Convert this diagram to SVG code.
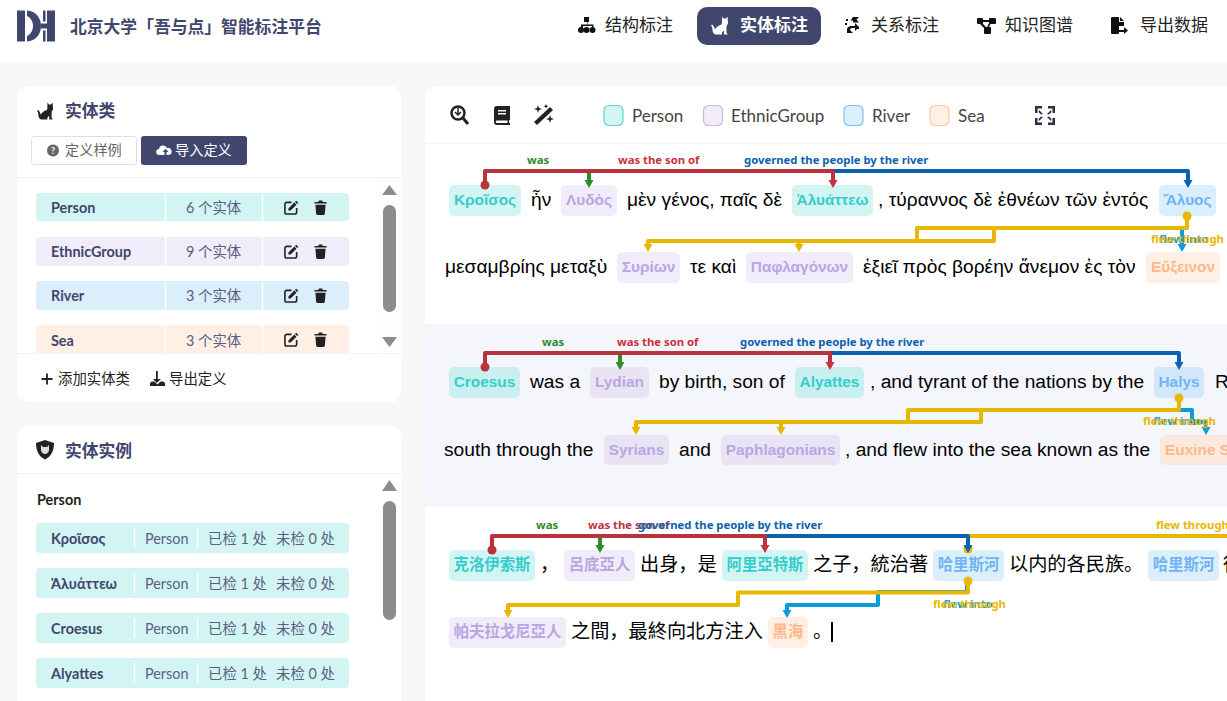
<svg xmlns="http://www.w3.org/2000/svg" width="1227" height="701" viewBox="0 0 1227 701">
<style>
text{font-family:Lato,"Noto Sans","Noto Sans CJK SC",sans-serif}
.nav{font-size:17px;fill:#222}
.sec{font-size:16.800px;font-weight:700;fill:#41466e}
.name{font-size:14.400px;font-weight:700;fill:#41466e}
.cnt{font-size:14.400px;fill:#5a5f82}
.foot{font-size:14.400px;fill:#222}
.leg{font-size:17px;fill:#444}
.t{font-family:"Liberation Sans","Noto Sans CJK SC",sans-serif;font-size:19.200px;fill:#000}
.e{font-family:"Liberation Sans","Noto Sans CJK SC",sans-serif;font-size:15.400px;font-weight:700;text-anchor:middle}
.l{font-family:"Noto Sans",sans-serif;font-size:11.300px;font-weight:700}
.g{fill:#2e8b2e}.r{fill:#c4323e}.b{fill:#0b62ae}.y{fill:#e8b800}.c{fill:#0a9cdc}
.pe{fill:#d2f5f3}.pt{fill:#35cdcd}
.et{fill:#f0ecf9}.ett{fill:#b9a6e3}
.ri{fill:#dbeefc}.rt{fill:#6fb5f5}
.se{fill:#ffefe4}.st{fill:#ffb88a}
.pe2{fill:#c9f0ee}.et2{fill:#e8e4f4}.ri2{fill:#d4e7fa}.se2{fill:#fbe9de}
.ln{fill:none;stroke-width:4;stroke-linejoin:round}
.sg{stroke:#2e8b2e}.sr{stroke:#b8333c}.sb{stroke:#0b62ae}.sy{stroke:#e8b800}.sc{stroke:#0a9cdc}
.div{stroke:#fff;stroke-width:1.500}
.thumb{fill:#8c8c8c}
</style>
<defs>
<marker id="ag" markerUnits="userSpaceOnUse" markerWidth="10" markerHeight="8" refX="5" refY="0" viewBox="0 0 10 8"><path d="M0.500 0H9.500L5 8Z" fill="#2e8b2e"/></marker>
<marker id="ar" markerUnits="userSpaceOnUse" markerWidth="10" markerHeight="8" refX="5" refY="0" viewBox="0 0 10 8"><path d="M0.500 0H9.500L5 8Z" fill="#c4323e"/></marker>
<marker id="ab" markerUnits="userSpaceOnUse" markerWidth="10" markerHeight="8" refX="5" refY="0" viewBox="0 0 10 8"><path d="M0.500 0H9.500L5 8Z" fill="#0b62ae"/></marker>
<marker id="ay" markerUnits="userSpaceOnUse" markerWidth="10" markerHeight="8" refX="5" refY="0" viewBox="0 0 10 8"><path d="M0.500 0H9.500L5 8Z" fill="#e8b800"/></marker>
<marker id="ac" markerUnits="userSpaceOnUse" markerWidth="10" markerHeight="8" refX="5" refY="0" viewBox="0 0 10 8"><path d="M0.500 0H9.500L5 8Z" fill="#0a9cdc"/></marker>
<symbol id="cat" viewBox="0 0 18 18"><path d="M11 0l1.500 2h2.500l1.500-2 .5 6c0 2-1 3-1.500 3.500V17h1v1h-3.500v-4l-2 2v2H5c-2 0-3.500-2-3.500-4.500 0-2-.5-3.500-1.500-4.500l1-1c1.500 1 2.500 3 3 5 1-2 3-4 6.500-5C11 7 11 5 11 4Z"/></symbol>
<symbol id="edit" viewBox="0 0 16 16"><path d="M13 .7l2.300 2.300-1.300 1.300L11.700 2ZM11 2.700 13.300 5 7 11.300H4.700V9Z"/><path d="M8 2.500H3A2 2 0 0 0 1 4.500V13a2 2 0 0 0 2 2h8.500a2 2 0 0 0 2-2V8.500" fill="none" stroke="#222" stroke-width="1.700"/></symbol>
<symbol id="trash" viewBox="0 0 14 16"><path d="M0.500 2H4.500L5.300.5H8.700L9.500 2H13.500V3.800H.5ZM1.500 5H12.500L11.700 14.500A1.500 1.500 0 0 1 10.200 16H3.800A1.500 1.500 0 0 1 2.300 14.500Z"/></symbol>
</defs>

<rect width="1227" height="701" fill="#f7f7f7"/>
<g id="header">
<rect width="1227" height="62" fill="#fff"/>
<g id="logo" fill="#41466e">
<rect x="17" y="10.500" width="8" height="31"/>
<path d="M27 10.500C36 11 41 18 41 26S36 41 27 41.500V36C31 34 33 30 33 26S31 18 27 16Z"/>
<rect x="41" y="23.500" width="8" height="5"/>
<rect x="43" y="10.500" width="2.500" height="11"/>
<rect x="43" y="30.500" width="2.500" height="11"/>
<rect x="47" y="10.500" width="8" height="31"/>
</g>
<text x="70" y="33" font-size="16.800" font-weight="700" fill="#41466e" style="font-family:'Noto Sans CJK SC',sans-serif">北京大学「吾与点」智能标注平台</text>
<g id="nav-structure">
<path d="M584 17h5v5h-1.500v2.500h6V28h-1.500v-2h-9v2H581v-3.500h6V22H584Z" fill="#111"/><circle cx="581" cy="30" r="3" fill="#111"/><circle cx="586.500" cy="30" r="3" fill="#111"/><circle cx="592.500" cy="30" r="3" fill="#111"/>
<text class="nav" x="605" y="31">结构标注</text></g>
<g id="nav-entity">
<rect x="697" y="7" width="124" height="38" rx="10" fill="#41466e"/>
<use href="#cat" x="711" y="16" width="18" height="19" fill="#fff"/>
<text x="740" y="31" font-size="17" font-weight="700" fill="#fff">实体标注</text></g>
<g id="nav-relation" fill="#111">
<path d="M853 17h6l-2.500 2.500 2.500 3h-6v-2h-2.500ZM853 33h-6v-3c0-3 2-4 5-4h3v-3l4 4-4 4v-3h-3c-1 0-2 1-2 2ZM846 19h2v2h-2ZM845 23h2v2h-2ZM857 27h2v2h-2Z"/>
<text class="nav" x="871" y="31">关系标注</text></g>
<g id="nav-graph" fill="#111">
<rect x="977" y="18" width="6" height="6" rx="1"/><rect x="989" y="18" width="7" height="6" rx="1"/><rect x="984" y="27" width="7" height="7" rx="1"/>
<path d="M980 20h12v2h-12ZM980 21l8 8-1.500 1.500-8-8ZM992 21l-4 8-1.500-.8 4-8Z"/>
<text class="nav" x="1005" y="31">知识图谱</text></g>
<g id="nav-export" fill="#111">
<path d="M1112 17h7v5h5v4h-5v4h5v-3l4 3.500-4 3.500v-2h-5v1a1 1 0 0 1-1 1h-6a1 1 0 0 1-1-1V18a1 1 0 0 1 1-1ZM1120 17l4 4h-4Z"/>
<text class="nav" x="1140" y="31">导出数据</text></g>
</g>

<g id="entity-class-card">
<rect x="17" y="86" width="384" height="316" rx="11" fill="#fff"/>
<use href="#cat" x="37" y="102" width="17" height="18" fill="#222"/>
<text class="sec" x="65" y="117">实体类</text>
<g id="btn-sample"><rect x="31.500" y="136.500" width="105" height="28" rx="3" fill="#fff" stroke="#dcdfe6"/>
<circle cx="53" cy="150.500" r="6" fill="#666"/><text x="53" y="154" font-size="9" font-weight="700" fill="#fff" text-anchor="middle">?</text>
<text x="65" y="155" font-size="14.200" fill="#666">定义样例</text></g>
<g id="btn-import"><rect x="141" y="136" width="106" height="29" rx="3" fill="#41466e"/>
<path d="M159.500 155a3 3 0 0 1-.5-6 4.200 4.200 0 0 1 8-1 3.300 3.300 0 0 1 2 7h-2.500v-3h2l-3-3.300-3 3.300h2v3Z" fill="#fff"/>
<text x="175" y="155" font-size="14.200" fill="#fff">导入定义</text></g>
<line x1="17" x2="401" y1="177.500" y2="177.500" stroke="#f2f2f2"/>
<rect x="378" y="178" width="23" height="175" fill="#fdfdfd"/>
<g id="class-person"><rect class="pe" x="36" y="193" width="313" height="28" rx="4"/><path class="div" d="M165.500 193v28M262.500 193v28"/><text class="name" x="51" y="213">Person</text><text class="cnt" x="186" y="213">6 个实体</text><use href="#edit" x="284" y="200" width="15" height="15" fill="#222"/><use href="#trash" x="314" y="200" width="13" height="15" fill="#222"/></g>
<g id="class-ethnicgroup"><rect class="et" x="36" y="237" width="313" height="29" rx="4"/><path class="div" d="M165.500 237v29M262.500 237v29"/><text class="name" x="51" y="257">EthnicGroup</text><text class="cnt" x="186" y="257">9 个实体</text><use href="#edit" x="284" y="244" width="15" height="15" fill="#222"/><use href="#trash" x="314" y="244" width="13" height="15" fill="#222"/></g>
<g id="class-river"><rect class="ri" x="36" y="281" width="313" height="29" rx="4"/><path class="div" d="M165.500 281v29M262.500 281v29"/><text class="name" x="51" y="301">River</text><text class="cnt" x="186" y="301">3 个实体</text><use href="#edit" x="284" y="288" width="15" height="15" fill="#222"/><use href="#trash" x="314" y="288" width="13" height="15" fill="#222"/></g>
<g id="class-sea"><path class="se" d="M40 325H345a4 4 0 0 1 4 4V353H36V329a4 4 0 0 1 4-4Z"/><path class="div" d="M165.500 325v28M262.500 325v28"/><text class="name" x="51" y="346">Sea</text><text class="cnt" x="186" y="346">3 个实体</text><use href="#edit" x="284" y="332" width="15" height="15" fill="#222"/><use href="#trash" x="314" y="332" width="13" height="15" fill="#222"/></g>
<path d="M389.500 185l7.500 10h-15Z" fill="#8c8c8c"/>
<rect class="thumb" x="383" y="205" width="13" height="107" rx="6.500"/>
<path d="M389.500 347l7.500-10h-15Z" fill="#8c8c8c"/>
<line x1="17" x2="401" y1="353.500" y2="353.500" stroke="#f2f2f2"/>
<path d="M47 373.500v11M41.500 379h11" stroke="#222" stroke-width="1.800"/>
<text class="foot" x="58" y="384">添加实体类</text>
<path d="M156 371h1.800v8h3l-3.900 4-3.900-4h3ZM150 384c0-1.500 1-2.500 2.500-2.500h2l3 3 3-3h2c1.500 0 2.500 1 2.500 2.500v2h-15Z" fill="#222"/>
<text class="foot" x="169" y="384">导出定义</text>
</g>

<g id="entity-instance-card">
<path d="M28 426H390a11 11 0 0 1 11 11V701H17V437a11 11 0 0 1 11-11Z" fill="#fff"/>
<path d="M45 440l9 3c0 7-2 13-9 16.500-7-3.500-9-9.500-9-16.500Z" fill="#222"/>
<path d="M41 445l2 2h4l2-2v5c0 2-2 4-4 4s-4-2-4-4Z" fill="#ddd"/>
<text class="sec" x="65" y="457">实体实例</text>
<line x1="17" x2="401" y1="473.500" y2="473.500" stroke="#f2f2f2"/>
<text x="37" y="505" font-size="14.400" font-weight="700" fill="#222">Person</text>
<g id="inst-1"><rect class="pe" x="36" y="523" width="313" height="30" rx="4"/><path class="div" d="M134.500 528v20M197.500 528v20"/><text class="name" x="51" y="544">Κροῖσος</text><text class="cnt" x="145" y="544">Person</text><text class="cnt" x="208" y="544">已检 1 处</text><text class="cnt" x="276" y="544">未检 0 处</text></g>
<g id="inst-2"><rect class="pe" x="36" y="568" width="313" height="30" rx="4"/><path class="div" d="M134.500 573v20M197.500 573v20"/><text class="name" x="51" y="589">Ἀλυάττεω</text><text class="cnt" x="145" y="589">Person</text><text class="cnt" x="208" y="589">已检 1 处</text><text class="cnt" x="276" y="589">未检 0 处</text></g>
<g id="inst-3"><rect class="pe" x="36" y="613" width="313" height="30" rx="4"/><path class="div" d="M134.500 618v20M197.500 618v20"/><text class="name" x="51" y="634">Croesus</text><text class="cnt" x="145" y="634">Person</text><text class="cnt" x="208" y="634">已检 1 处</text><text class="cnt" x="276" y="634">未检 0 处</text></g>
<g id="inst-4"><rect class="pe" x="36" y="658" width="313" height="30" rx="4"/><path class="div" d="M134.500 663v20M197.500 663v20"/><text class="name" x="51" y="679">Alyattes</text><text class="cnt" x="145" y="679">Person</text><text class="cnt" x="208" y="679">已检 1 处</text><text class="cnt" x="276" y="679">未检 0 处</text></g>
<path d="M389.500 480l7.500 11h-15Z" fill="#8c8c8c"/>
<rect class="thumb" x="383" y="501" width="13" height="119" rx="6.500"/>
</g>

<g id="editor">
<path d="M436 86H1227V143H425V97a11 11 0 0 1 11-11Z" fill="#fff"/>
<rect x="425" y="144" width="802" height="180" fill="#fff"/>
<rect x="425" y="324" width="802" height="183" fill="#f5f6fb"/>
<rect x="425" y="507" width="802" height="194" fill="#fff"/>
<g id="tool-zoom" fill="none" stroke="#222"><circle cx="458" cy="113" r="6.500" stroke-width="2.500"/><path d="M463 118l5 6" stroke-width="3"/><path d="M458 108v7M455 112l3 3 3-3" stroke-width="1.500"/></g>
<g id="tool-book" fill="#222"><path d="M497 106h13v14h-1v3h1v2h-13a3 3 0 0 1-3-3V109a3 3 0 0 1 3-3Z"/><path d="M497 120.500h10.500v2.500h-10.500a1.200 1.200 0 0 1 0-2.500ZM498 110h8v1.500h-8ZM498 113h8v1.500h-8Z" fill="#fff"/></g>
<g id="tool-wand" fill="#222"><path d="M550 107l3 3-16 15-3-3Z"/><path d="M538 105l1 3 3 1-3 1-1 3-1-3-3-1 3-1ZM550 115l1 3 3 1-3 1-1 3-1-3-3-1 3-1ZM546 104l.7 1.500 1.500.7-1.500.7-.7 1.500-.7-1.500-1.500-.7 1.500-.7Z"/></g>
<g id="legend-person"><rect class="pe" x="604" y="105.500" width="19" height="20" rx="5" stroke="#5dd7d7" stroke-width="1.200"/><text class="leg" x="632" y="122">Person</text></g>
<g id="legend-ethnic"><rect class="et" x="703.500" y="105.500" width="19" height="20" rx="5" stroke="#c8b8ec" stroke-width="1.200"/><text class="leg" x="731" y="122">EthnicGroup</text></g>
<g id="legend-river"><rect class="ri" x="844" y="105.500" width="19" height="20" rx="5" stroke="#7fc0f5" stroke-width="1.200"/><text class="leg" x="872" y="122">River</text></g>
<g id="legend-sea"><rect class="se" x="930" y="105.500" width="19" height="20" rx="5" stroke="#ffc9a3" stroke-width="1.200"/><text class="leg" x="958" y="122">Sea</text></g>
<path id="tool-full" d="M1035 106h7v2.500h-4.500v4.500h-2.500ZM1055 106h-7v2.500h4.500v4.500h2.500ZM1035 125h7v-2.500h-4.500v-4.500h-2.500ZM1055 125h-7v-2.500h4.500v-4.500h2.500ZM1039 110l4 4-2 .5-2.500-2.500ZM1051 110l-4 4 2 .5 2.500-2.500ZM1039 121l4-4-2-.5-2.500 2.500ZM1051 121l-4-4 2-.5 2.500 2.500Z" fill="#2a3147"/>
</g>

<g id="sentence-1">
<g id="s1-kroisos"><rect class="pe" x="449" y="185" width="72" height="31" rx="5"/><text class="e pt" x="485" y="205">Κροῖσος</text></g>
<text class="t" x="531" y="206">ἦν</text>
<g id="s1-lydos"><rect class="et" x="561" y="185" width="56" height="31" rx="5"/><text class="e ett" x="589" y="205">Λυδὸς</text></g>
<text class="t" x="627" y="206">μὲν γένος, παῖς δὲ</text>
<g id="s1-alyatteo"><rect class="pe" x="792" y="185" width="81" height="31" rx="5"/><text class="e pt" x="832.500" y="205">Ἀλυάττεω</text></g>
<text class="t" x="878" y="206">, τύραννος δὲ ἐθνέων τῶν ἐντός</text>
<g id="s1-halys"><rect class="ri" x="1159" y="185" width="57" height="31" rx="5"/><text class="e rt" x="1187.500" y="205">Ἅλυος</text></g>
<text class="t" x="445" y="273">μεσαμβρίης μεταξὺ</text>
<g id="s1-syrion"><rect class="et" x="617" y="252" width="63" height="31" rx="5"/><text class="e ett" x="648.500" y="272">Συρίων</text></g>
<text class="t" x="690" y="273">τε καὶ</text>
<g id="s1-paphlagonon"><rect class="et" x="746" y="252" width="107" height="31" rx="5"/><text class="e ett" x="799.500" y="272">Παφλαγόνων</text></g>
<text class="t" x="863" y="273">ἐξιεῖ πρὸς βορέην ἄνεμον ἐς τὸν</text>
<g id="s1-euxeinon"><rect class="se" x="1146" y="252" width="74" height="31" rx="5"/><text class="e st" x="1183" y="272">Εὔξεινον</text></g>
</g>

<g id="sentence-2">
<g id="s2-croesus"><rect class="pe2" x="449" y="367" width="71" height="31" rx="5"/><text class="e pt" x="484.500" y="387">Croesus</text></g>
<text class="t" x="530" y="388">was a</text>
<g id="s2-lydian"><rect class="et2" x="590" y="367" width="59" height="31" rx="5"/><text class="e ett" x="619.500" y="387">Lydian</text></g>
<text class="t" x="659" y="388">by birth, son of</text>
<g id="s2-alyattes"><rect class="pe2" x="795" y="367" width="69" height="31" rx="5"/><text class="e pt" x="829.500" y="387">Alyattes</text></g>
<text class="t" x="870" y="388">, and tyrant of the nations by the</text>
<g id="s2-halys"><rect class="ri2" x="1154" y="367" width="50" height="31" rx="5"/><text class="e rt" x="1179" y="387">Halys</text></g>
<text class="t" x="1215" y="388">River</text>
<text class="t" x="444" y="456">south through the</text>
<g id="s2-syrians"><rect class="et2" x="604" y="435" width="65" height="30" rx="5"/><text class="e ett" x="636.500" y="455">Syrians</text></g>
<text class="t" x="679" y="456">and</text>
<g id="s2-paphlagonians"><rect class="et2" x="721" y="435" width="119" height="30" rx="5"/><text class="e ett" x="780.500" y="455">Paphlagonians</text></g>
<text class="t" x="845" y="456">, and flew into the sea known as the</text>
<g id="s2-euxine"><rect class="se2" x="1160" y="435" width="100" height="30" rx="5"/><text class="e st" x="1165" y="455" style="text-anchor:start">Euxine Sea</text></g>
</g>

<g id="sentence-3">
<g id="s3-croesus"><rect class="pe" x="449" y="550" width="86" height="31" rx="5"/><text class="e pt" x="492" y="570">克洛伊索斯</text></g>
<text class="t" x="540" y="571">，</text>
<g id="s3-lydian"><rect class="et" x="564" y="550" width="71" height="31" rx="5"/><text class="e ett" x="599.500" y="570">呂底亞人</text></g>
<text class="t" x="640" y="571">出身，是</text>
<g id="s3-alyattes"><rect class="pe" x="722" y="550" width="86" height="31" rx="5"/><text class="e pt" x="765" y="570">阿里亞特斯</text></g>
<text class="t" x="813" y="571">之子，統治著</text>
<g id="s3-halys"><rect class="ri" x="933" y="550" width="71" height="31" rx="5"/><text class="e rt" x="968.500" y="570">哈里斯河</text></g>
<text class="t" x="1009" y="571">以内的各民族。</text>
<g id="s3-halys2"><rect class="ri" x="1148" y="550" width="71" height="31" rx="5"/><text class="e rt" x="1183.500" y="570">哈里斯河</text></g>
<text class="t" x="1223" y="571">從</text>
<g id="s3-paphlagonians"><rect class="et" x="449" y="617" width="117" height="31" rx="5"/><text class="e ett" x="507.500" y="637">帕夫拉戈尼亞人</text></g>
<text class="t" x="571" y="638">之間，最終向北方注入</text>
<g id="s3-blacksea"><rect class="se" x="768" y="617" width="40" height="31" rx="5"/><text class="e st" x="788" y="637">黑海</text></g>
<text class="t" x="813" y="638">。</text>
<rect x="831" y="622" width="2" height="20" fill="#000"/>
</g>

<g id="connectors">
<path class="ln sg" d="M589 171V180" marker-end="url(#ag)"/>
<path class="ln sb" d="M833 171H1188V180" marker-end="url(#ab)"/>
<path class="ln sr" d="M485 185V171H833V180" marker-end="url(#ar)"/>
<circle cx="485" cy="185" r="4.500" fill="#b8333c"/>
<path class="ln sc" d="M1182 228V244" marker-end="url(#ac)"/>
<path class="ln sy" d="M1187 216V228H994V241H648V244" marker-end="url(#ay)"/>
<path class="ln sy" d="M1187 228H917V241H799V244" marker-end="url(#ay)"/>
<circle cx="1187" cy="216" r="4.500" fill="#e8b800"/>
<text class="l g" x="527" y="164">was</text>
<text class="l r" x="618" y="164">was the son of</text>
<text class="l b" x="744" y="164">governed the people by the river</text>
<text class="l c" x="1159" y="243">flew into</text>
<text class="l y" x="1151" y="243">flew through</text>
<path class="ln sg" d="M620 353V362" marker-end="url(#ag)"/>
<path class="ln sb" d="M830 353H1179V362" marker-end="url(#ab)"/>
<path class="ln sr" d="M485 367V353H830V362" marker-end="url(#ar)"/>
<circle cx="485" cy="367" r="4.500" fill="#b8333c"/>
<path class="ln sc" d="M1179 410H1192V422H1206V427" marker-end="url(#ac)"/>
<path class="ln sy" d="M1179 398V410H981V422H636V427" marker-end="url(#ay)"/>
<path class="ln sy" d="M1179 410H908V422H781V427" marker-end="url(#ay)"/>
<circle cx="1179" cy="398" r="4.500" fill="#e8b800"/>
<text class="l g" x="542" y="346">was</text>
<text class="l r" x="617" y="346">was the son of</text>
<text class="l b" x="740" y="346">governed the people by the river</text>
<text class="l c" x="1153" y="425">flew into</text>
<text class="l y" x="1143" y="425">flew through</text>
<path class="ln sg" d="M600 536V545" marker-end="url(#ag)"/>
<path class="ln sy" d="M968 549V536H1227"/>
<circle cx="968" cy="549" r="4.500" fill="#e8b800"/>
<path class="ln sb" d="M765 536H968V545" marker-end="url(#ab)"/>
<path class="ln sr" d="M492 550V536H765V545" marker-end="url(#ar)"/>
<circle cx="492" cy="550" r="4.500" fill="#b8333c"/>
<path class="ln sc" d="M967 581V592H878V605H787V610" marker-end="url(#ac)"/>
<path class="ln sy" d="M968 581V592.500H738V605H508V610" marker-end="url(#ay)"/>
<circle cx="968" cy="581" r="4.500" fill="#e8b800"/>
<text class="l g" x="536" y="529">was</text>
<text class="l r" x="588" y="529">was the son of</text>
<text class="l b" x="638" y="529">governed the people by the river</text>
<text class="l y" x="1156" y="529">flew through</text>
<text class="l c" x="943" y="608">flew into</text>
<text class="l y" x="933" y="608">flew through</text>
</g>
</svg>
